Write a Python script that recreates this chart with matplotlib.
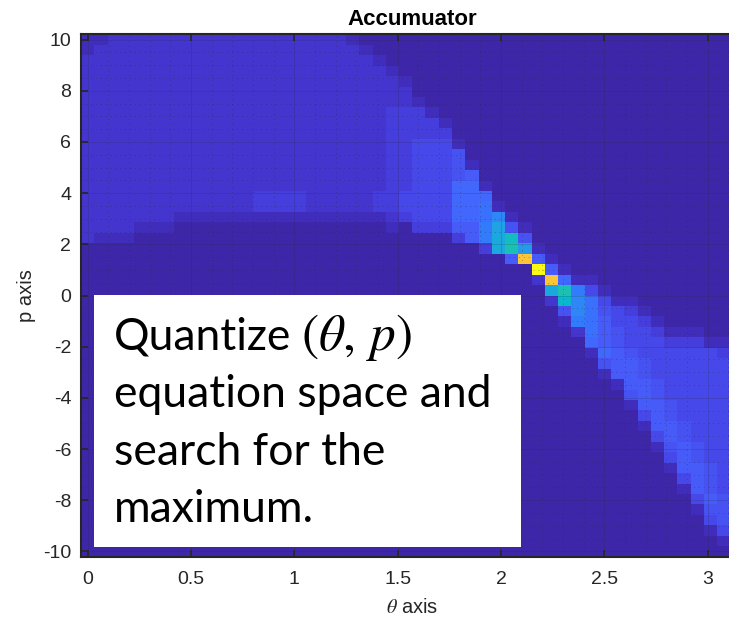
import numpy as np
import matplotlib.pyplot as plt
from matplotlib.colors import LinearSegmentedColormap
from matplotlib.patches import Rectangle
from matplotlib.ticker import MultipleLocator, FormatStrFormatter

plt.rcParams["font.family"] = ["Liberation Sans", "DejaVu Sans"]
plt.rcParams["mathtext.fontset"] = "stix"
plt.rcParams["axes.unicode_minus"] = False

# accumulator bins
theta = np.linspace(0, np.pi, 50)
rho = np.linspace(10, -10, 50)

# votes per bin, one row per rho (top = +10), one base-36 digit per theta
acc_rows = [
    "1122222222 2222222222 1000000000 0000000000 0000000000",
    "1222222222 2222222222 2100000000 0000000000 0000000000",
    "2222222222 2222222222 2210000000 0000000000 0000000000",
    "2222222222 2222222222 2221000000 0000000000 0000000000",
    "2222222222 2222222222 2222100000 0000000000 0000000000",
    "2222222222 2222222222 2222200000 0000000000 0000000000",
    "2222222222 2222222222 2222210000 0000000000 0000000000",
    "2222222222 2222222222 2223331000 0000000000 0000000000",
    "2222222222 2222222222 2223333100 0000000000 0000000000",
    "2222222222 2222222222 2223333300 0000000000 0000000000",
    "2222222222 2222222222 2223344410 0000000000 0000000000",
    "2222222222 2222222222 2223344450 0000000000 0000000000",
    "2222222222 2222222222 2223344451 0000000000 0000000000",
    "2222222222 2222222222 2223344456 0000000000 0000000000",
    "2222222222 2222222222 2223344477 1000000000 0000000000",
    "2222222222 2223333222 2233444477 7000000000 0000000000",
    "2222222222 2223333222 2233444477 8100000000 0000000000",
    "2222222111 1111111111 1112344477 8a10000000 0000000000",
    "2222111000 0000000000 0001033366 9d51000000 0000000000",
    "2111000000 0000000000 0000000036 9eh5000000 0000000000",
    "0000000000 0000000000 0000000000 3eic100000 0000000000",
    "0000000000 0000000000 0000000000 006u610000 0000000000",
    "0000000000 0000000000 0000000000 0000z61000 0000000000",
    "0000000000 0000000000 0000000000 00002u7110 0000000000",
    "0000000000 0000000000 0000000000 00000ei941 0000000000",
    "0000000000 0000000000 0000000000 000002ga84 1100000000",
    "0000000000 0000000000 0000000000 0000005a85 4310000000",
    "0000000000 0000000000 0000000000 0000001986 4431000000",
    "0000000000 0000000000 0000000000 0000000286 5443111000",
    "0000000000 0000000000 0000000000 0000000076 5444333110",
    "0000000000 0000000000 0000000000 0000000017 6544444431",
    "0000000000 0000000000 0000000000 0000000005 6654444443",
    "0000000000 0000000000 0000000000 0000000001 6654444444",
    "0000000000 0000000000 0000000000 0000000000 1665444444",
    "0000000000 0000000000 0000000000 0000000000 0565444444",
    "0000000000 0000000000 0000000000 0000000000 0166544444",
    "0000000000 0000000000 0000000000 0000000000 0046544444",
    "0000000000 0000000000 0000000000 0000000000 0016654444",
    "0000000000 0000000000 0000000000 0000000000 0004654444",
    "0000000000 0000000000 0000000000 0000000000 0001565444",
    "0000000000 0000000000 0000000000 0000000000 0000465444",
    "0000000000 0000000000 0000000000 0000000000 0000166544",
    "0000000000 0000000000 0000000000 0000000000 0000046544",
    "0000000000 0000000000 0000000000 0000000000 0000016544",
    "0000000000 0000000000 0000000000 0000000000 0000004654",
    "0000000000 0000000000 0000000000 0000000000 0000001554",
    "0000000000 0000000000 0000000000 0000000000 0000000454",
    "0000000000 0000000000 0000000000 0000000000 0000000144",
    "0000000000 0000000000 0000000000 0000000000 0000000014",
    "0000000000 0000000000 0000000000 0000000000 0000000003",
]
votes = np.array([[int(c, 36) for c in r.replace(" ", "")] for r in acc_rows])
assert votes.shape == (len(rho), len(theta))

# MATLAB parula, sampled every 4th entry of the 64-colour table
parula_idx = [0, 4, 8, 12, 16, 20, 24, 28, 32, 36, 40, 44, 48, 52, 56, 60, 63]
parula_rgb = [
    (0.2422, 0.1504, 0.6603), (0.2706, 0.2147, 0.8364), (0.2813, 0.3006, 0.9414),
    (0.2699, 0.3892, 0.9906), (0.1963, 0.4847, 0.9892), (0.1687, 0.5703, 0.9359),
    (0.1248, 0.6459, 0.8883), (0.0297, 0.7082, 0.8163), (0.0964, 0.7500, 0.7120),
    (0.2161, 0.7843, 0.5923), (0.3909, 0.8029, 0.4354), (0.6174, 0.7876, 0.2612),
    (0.8203, 0.7498, 0.1535), (0.9728, 0.7298, 0.2394), (0.9892, 0.8136, 0.1885),
    (0.9597, 0.9135, 0.1423), (0.9769, 0.9839, 0.0805),
]
parula = LinearSegmentedColormap.from_list(
    "parula", [(i / 63, c) for i, c in zip(parula_idx, parula_rgb)])

W, H = 729, 619
fig = plt.figure(figsize=(W / 100, H / 100), dpi=100)
ax = fig.add_axes([81 / W, (H - 556.7) / H, 662.5 / W, 522.4 / H])

ax.pcolormesh(theta, rho, votes, cmap=parula, shading="nearest",
              vmin=0, vmax=votes.max())

dth = theta[1] - theta[0]
drho = rho[0] - rho[1]
ax.set_xlim(theta[0] - dth / 2, theta[-1] + dth / 2)
ax.set_ylim(rho[-1] - drho / 2, rho[0] + drho / 2)

ax.xaxis.set_major_locator(MultipleLocator(0.5))
ax.xaxis.set_minor_locator(MultipleLocator(0.1))
ax.yaxis.set_major_locator(MultipleLocator(2))
ax.yaxis.set_minor_locator(MultipleLocator(0.5))
ax.xaxis.set_major_formatter(FormatStrFormatter("%g"))
ax.yaxis.set_major_formatter(FormatStrFormatter("%g"))

ax.set_axisbelow(False)
ax.grid(which="major", color="#262626", alpha=0.18, linewidth=0.7)
ax.grid(which="minor", color="#262626", alpha=0.35, linewidth=0.7,
        linestyle=(0, (1, 4)))
ax.tick_params(which="major", direction="in", length=5, width=1.2,
               top=True, right=True, labelsize=14, colors="#262626")
ax.tick_params(axis="x", pad=10.5)
ax.tick_params(axis="y", pad=7)
ax.tick_params(which="minor", length=0)
for s in ax.spines.values():
    s.set_color("#262626")
    s.set_linewidth(1.5)

ax.set_title("Accumuator", fontsize=16, fontweight="bold", pad=7)
ax.set_xlabel(r"$\theta$ axis", fontsize=14.5, color="#262626", labelpad=7)
ax.set_ylabel("p axis", fontsize=14.5, color="#262626", labelpad=5)

# note box over the lower-left of the accumulator
fig.add_artist(Rectangle((94 / W, (H - 546.7) / H), 426.7 / W, 251.7 / H,
                         transform=fig.transFigure, facecolor="white",
                         edgecolor="none", zorder=5))
note = ["Quantize", "equation space and", "search for the", "maximum."]
for k, line in enumerate(note):
    fig.text(114 / W, (H - 350 - 57.3 * k) / H, line, family="Lato",
             fontsize=32, va="baseline", ha="left", zorder=6)
fig.text(301 / W, (H - 350) / H, r"$(\theta,\,p)$", fontsize=37,
         va="baseline", ha="left", zorder=6)

fig.savefig("out.png", dpi=100)
